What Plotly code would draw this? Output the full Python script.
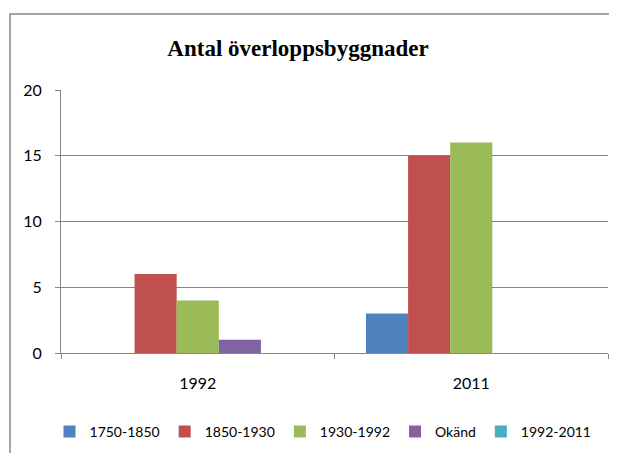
import plotly.graph_objects as go

# data
years = ["1992", "2011"]
series_names = ["1750-1850", "1850-1930", "1930-1992", "Okänd", "1992-2011"]
values_1750_1850 = [0, 3]
values_1850_1930 = [6, 15]
values_1930_1992 = [4, 16]
values_okand = [1, 0]
values_1992_2011 = [0, 0]
y_ticks = [0, 5, 10, 15, 20]

colors = ["#4F81BD", "#C0504D", "#9BBB59", "#8064A2", "#4BACC6"]
series_values = [values_1750_1850, values_1850_1930, values_1930_1992,
                 values_okand, values_1992_2011]

fig = go.Figure()
for name, vals, col in zip(series_names, series_values, colors):
    fig.add_trace(go.Bar(x=years, y=vals, name=name, marker_color=col,
                         marker_line_width=0))

# the page body adds an 8px offset, so the figure is 8px smaller
W, H = 609, 445
grid = "#868686"
fig.update_layout(
    width=W, height=H,
    margin=dict(l=53, r=9, t=82, b=100, autoexpand=False),
    paper_bgcolor="white", plot_bgcolor="white",
    barmode="group", bargap=0.23, bargroupgap=0,
    font=dict(family="Lato, Liberation Sans, sans-serif", size=16, color="black"),
    title=dict(text="<b>Antal överloppsbyggnader</b>",
               font=dict(family="Liberation Serif, Times New Roman, serif", size=23),
               x=290 / W, xanchor="center", xref="container",
               y=1 - 40 / H, yanchor="middle", yref="container"),
    legend=dict(orientation="h", x=0.479, xanchor="center", y=-0.30, yanchor="middle",
                font=dict(size=14), itemwidth=30, traceorder="normal"),
    showlegend=True,
)
fig.update_yaxes(range=[0, 20], tickvals=y_ticks, showgrid=True, gridcolor=grid,
                 gridwidth=1, showline=True, linecolor=grid, linewidth=1,
                 ticks="outside", ticklen=5, tickcolor=grid, zeroline=False,
                 tickfont=dict(size=16), ticklabelstandoff=10, automargin=False)
fig.update_xaxes(showline=True, linecolor=grid, linewidth=1, ticks="outside",
                 ticklen=5, tickcolor=grid, tickson="boundaries",
                 tickfont=dict(size=16), ticklabelstandoff=16, automargin=False)

# outer chart frame (left and top edges visible)
fig.add_shape(type="rect", xref="paper", yref="paper",
              x0=(10 - 61) / 547, x1=(625 - 61) / 547,
              y0=(353 - 470) / 263, y1=(353 - 14) / 263,
              line=dict(color="#888888", width=1.5), layer="below")

fig.write_html("out.html")
